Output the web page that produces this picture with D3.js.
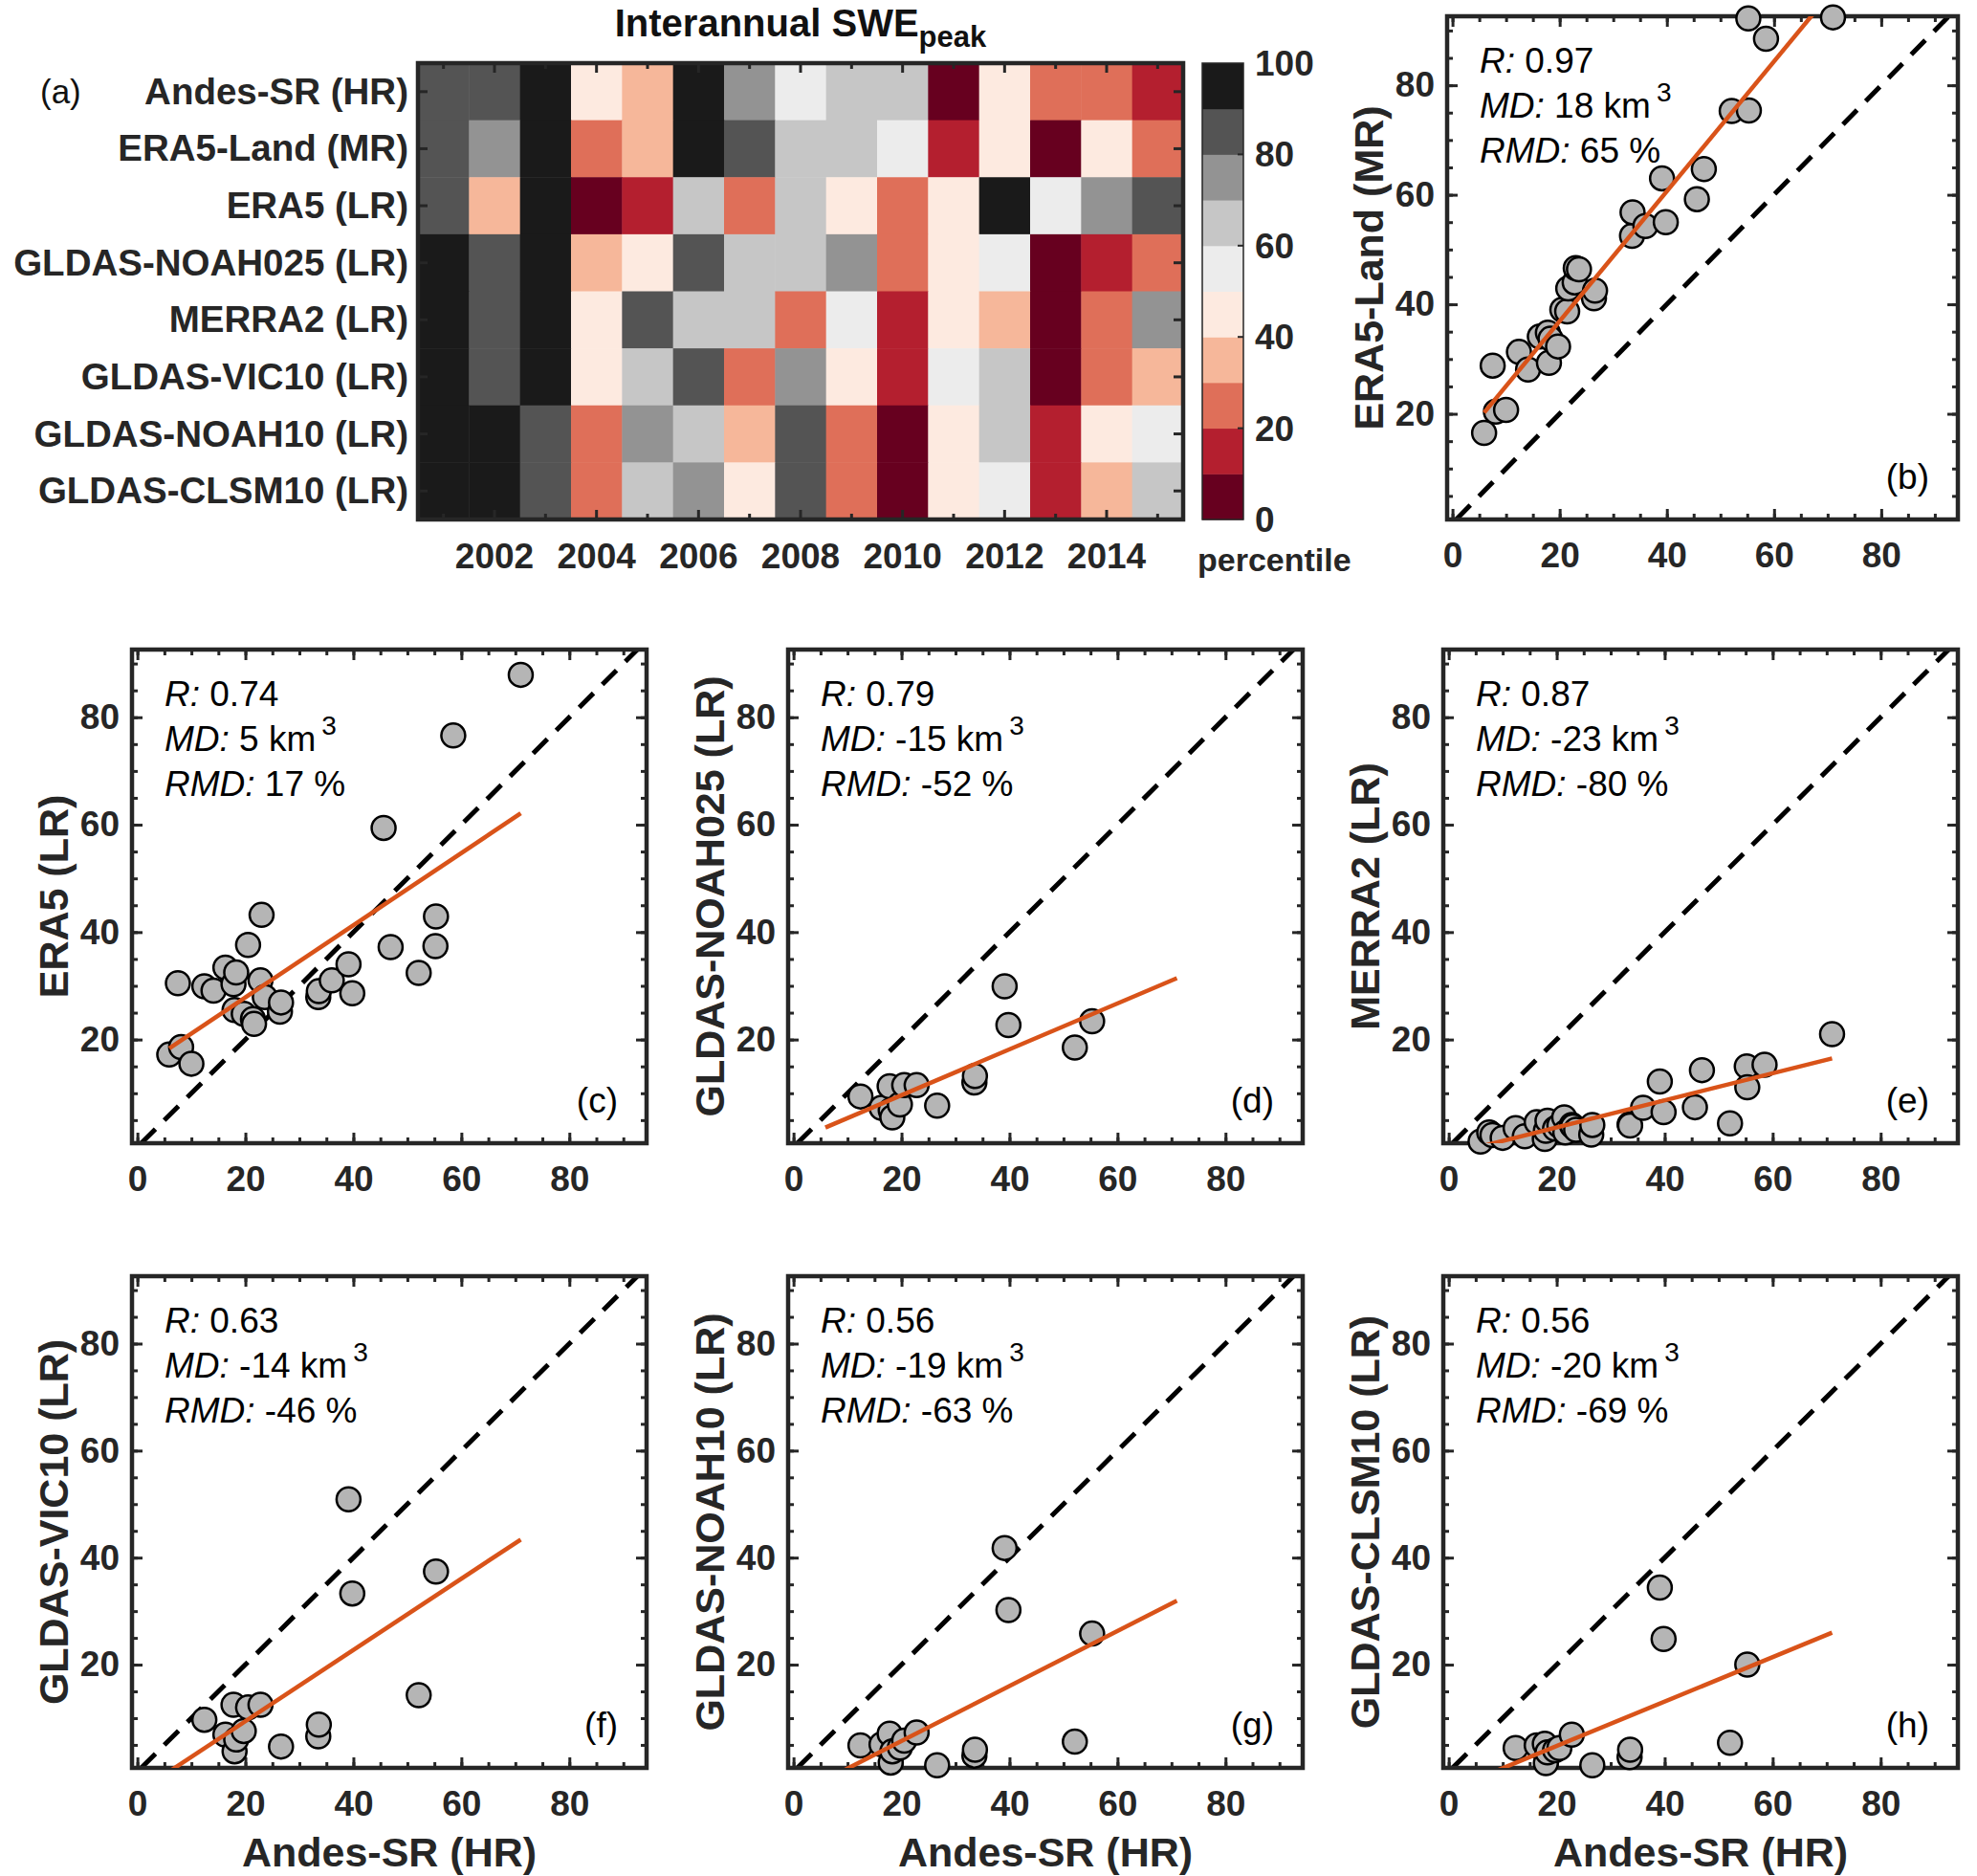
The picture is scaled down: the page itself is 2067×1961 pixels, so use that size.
<!DOCTYPE html>
<html lang="en">
<head>
<meta charset="UTF-8">
<title>Interannual SWE peak</title>
<script src="https://d3js.org/d3.v7.min.js"></script>
<style>
    body { margin: 0; background: #fff; }
    svg text { font-family: 'Liberation Sans', Arial, Helvetica, sans-serif; }
    .tick text { fill: #262626; font-weight: bold; font-size: 37px; }
    .tick line { stroke: #262626; stroke-width: 3px; }
    .domain { display: none; }
</style>
</head>
<body>
<div id="chart"></div>
<script>
// ---- data ----
const years = [2001, 2002, 2003, 2004, 2005, 2006, 2007, 2008, 2009, 2010, 2011, 2012, 2013, 2014, 2015];
const yearTicks = [2002, 2004, 2006, 2008, 2010, 2012, 2014];
const products = ["Andes-SR (HR)", "ERA5-Land (MR)", "ERA5 (LR)", "GLDAS-NOAH025 (LR)",
                  "MERRA2 (LR)", "GLDAS-VIC10 (LR)", "GLDAS-NOAH10 (LR)", "GLDAS-CLSM10 (LR)"];

// percentile of each year's SWE peak (bin centres)
const pctAndesSR  = [85, 85, 95, 45, 35, 95, 75, 55, 65, 65,  5, 45, 25, 25, 15];
const pctERA5Land = [85, 75, 95, 25, 35, 95, 85, 65, 65, 55, 15, 45,  5, 45, 25];
const pctERA5     = [85, 35, 95,  5, 15, 65, 25, 65, 45, 25, 45, 95, 55, 75, 85];
const pctNOAH025  = [95, 85, 95, 35, 45, 85, 65, 65, 75, 25, 45, 55,  5, 15, 25];
const pctMERRA2   = [95, 85, 95, 45, 85, 65, 65, 25, 55, 15, 45, 35,  5, 25, 75];
const pctVIC10    = [95, 85, 95, 45, 65, 85, 25, 75, 45, 15, 55, 65,  5, 25, 35];
const pctNOAH10   = [95, 95, 85, 25, 75, 65, 35, 85, 25,  5, 45, 65, 15, 45, 55];
const pctCLSM10   = [95, 95, 85, 25, 65, 75, 45, 85, 25,  5, 45, 55, 15, 35, 65];

const colorBreaks = [10, 20, 30, 40, 50, 60, 70, 80, 90];
const colorSteps = ["#67001f", "#b41f2f", "#df6f59", "#f6b79a", "#fdeae0",
                    "#ececec", "#c6c6c6", "#939393", "#545454", "#1a1a1a"];
const colorbarTicks = [0, 20, 40, 60, 80, 100];

// Andes-SR peak SWE (km3), long record and GLDAS overlap
const andesLong  = [5.9, 7.5, 8.1, 10.0, 12.4, 14.1, 16.3, 17.8, 18.0, 18.3, 19.7, 20.5, 21.4, 21.6, 22.8, 23.0,
                    23.6, 26.4, 26.6, 33.5, 33.6, 36.0, 39.1, 39.8, 45.6, 46.9, 52.1, 55.2, 55.3, 58.5, 71.0];
const andesShort = [12.4, 16.3, 17.8, 18.0, 18.3, 19.7, 20.5, 22.8, 26.6, 33.5, 33.6, 39.1, 39.8, 52.1, 55.3];

const sweERA5Land = [16.5, 28.8, 20.4, 20.7, 31.3, 28.1, 34.1, 34.8, 29.3, 33.7, 32.3, 39.0, 38.7, 42.9, 44.0, 46.6,
                     46.4, 41.1, 42.5, 52.5, 56.8, 54.3, 63.0, 55.0, 59.2, 64.7, 75.3, 92.2, 75.4, 88.5, 92.4];
const sweERA5     = [17.2, 30.5, 18.6, 15.5, 29.9, 29.1, 33.4, 30.3, 25.5, 32.5, 24.8, 37.6, 23.8, 22.9, 31.0, 43.2,
                     27.9, 25.2, 26.9, 27.9, 29.0, 31.0, 34.0, 28.6, 59.4, 37.2, 32.4, 37.4, 42.9, 76.6, 87.9];
const sweMERRA2   = [1.0, 2.7, 2.2, 1.7, 3.5, 2.0, 4.6, 1.5, 3.0, 4.9, 3.4, 4.0, 5.5, 2.7, 4.1, 3.8,
                     3.2, 2.3, 4.1, 4.2, 4.0, 7.3, 12.2, 6.5, 7.4, 14.3, 4.4, 15.0, 11.1, 15.3, 21.0];
const sweNOAH025  = [9.4, 7.3, 11.3, 6.8, 5.5, 7.9, 11.5, 11.5, 7.7, 12.0, 13.2, 29.9, 22.7, 18.5, 23.4];
const sweVIC10    = [9.7, 6.9, 12.5, 3.8, 6.0, 7.6, 12.0, 12.5, 4.7, 6.6, 8.8, 50.9, 33.3, 14.3, 37.4];
const sweNOAH10   = [4.9, 5.1, 7.1, 1.7, 3.8, 4.5, 5.8, 7.3, 1.2, 3.0, 4.1, 41.8, 30.2, 5.6, 25.8];
const sweCLSM10   = [4.4, 4.9, 5.2, 1.6, 3.6, 4.0, 4.4, 6.9, 1.2, 2.7, 4.1, 34.4, 24.8, 5.4, 20.0];

// fitted lines as drawn (slope, intercept), over the Andes-SR range
const fitSlope     = [1.186, 0.672, 0.427, 0.252, 0.666, 0.514, 0.415];
const fitIntercept = [13.2, 14.4, 1.1, -1.4, -3.9, -4.55, -3.5];
const fitRange = [5.9, 71.0];

const statR   = ["0.97", "0.74", "0.79", "0.87", "0.63", "0.56", "0.56"];
const statMD  = ["18", "5", "-15", "-23", "-14", "-19", "-20"];
const statRMD = ["65", "17", "-52", "-80", "-46", "-63", "-69"];
const panelLetters = ["(b)", "(c)", "(d)", "(e)", "(f)", "(g)", "(h)"];
const panelYLabels = ["ERA5-Land (MR)", "ERA5 (LR)", "GLDAS-NOAH025 (LR)", "MERRA2 (LR)",
                      "GLDAS-VIC10 (LR)", "GLDAS-NOAH10 (LR)", "GLDAS-CLSM10 (LR)"];
const scatterTicks = [0, 20, 40, 60, 80];

// ---- layout ----
const W = 2067, H = 1961;
const ink = "#262626";
const heat = {x0: 437, x1: 1237, y0: 66, y1: 543};
const cbar = {x0: 1257, x1: 1300};
const boxes = [
    {x: 1513, y: 17, w: 534, h: 526},
    {x: 138, y: 679, w: 538, h: 516},
    {x: 824, y: 679, w: 538, h: 516},
    {x: 1509, y: 679, w: 538, h: 516},
    {x: 138, y: 1334, w: 538, h: 514},
    {x: 824, y: 1334, w: 538, h: 514},
    {x: 1509, y: 1334, w: 538, h: 514}
];
const xDomain = [-1, 94.3], yDomain = [0.7, 92.6];

const svg = d3.select("#chart").append("svg")
    .attr("width", W).attr("height", H);

// ---- (a) heatmap ----
const pctRows = [pctAndesSR, pctERA5Land, pctERA5, pctNOAH025, pctMERRA2, pctVIC10, pctNOAH10, pctCLSM10];
const hx = d3.scaleBand().domain(years).range([heat.x0, heat.x1]);
const hy = d3.scaleBand().domain(products).range([heat.y0, heat.y1]);
const color = d3.scaleThreshold().domain(colorBreaks).range(colorSteps);

const cells = [];
pctRows.forEach((row, i) => row.forEach((v, j) => cells.push({p: products[i], yr: years[j], v})));

svg.append("g").selectAll("rect").data(cells).join("rect")
    .attr("x", d => hx(d.yr)).attr("y", d => hy(d.p))
    .attr("width", hx.bandwidth() + 0.5).attr("height", hy.bandwidth() + 0.5)
    .attr("fill", d => color(d.v));

// tick marks
const hTicks = svg.append("g").attr("stroke", ink).attr("stroke-width", 3);
years.forEach(yr => {
    const cx = hx(yr) + hx.bandwidth() / 2;
    const len = yr % 2 === 0 ? 10 : 6;
    hTicks.append("line").attr("x1", cx).attr("x2", cx).attr("y1", heat.y0).attr("y2", heat.y0 + len);
    hTicks.append("line").attr("x1", cx).attr("x2", cx).attr("y1", heat.y1).attr("y2", heat.y1 - len);
});
products.forEach(p => {
    const cy = hy(p) + hy.bandwidth() / 2;
    hTicks.append("line").attr("x1", heat.x0).attr("x2", heat.x0 + 10).attr("y1", cy).attr("y2", cy);
    hTicks.append("line").attr("x1", heat.x1).attr("x2", heat.x1 - 10).attr("y1", cy).attr("y2", cy);
});
svg.append("rect").attr("x", heat.x0).attr("y", heat.y0)
    .attr("width", heat.x1 - heat.x0).attr("height", heat.y1 - heat.y0)
    .attr("fill", "none").attr("stroke", ink).attr("stroke-width", 4.5);

svg.append("g").selectAll("text").data(products).join("text")
    .attr("x", heat.x0 - 10).attr("y", d => hy(d) + hy.bandwidth() / 2 + 13)
    .attr("text-anchor", "end").attr("font-weight", "bold").attr("font-size", 38.5).attr("fill", ink)
    .text(d => d);

svg.append("g").selectAll("text").data(yearTicks).join("text")
    .attr("x", d => hx(d) + hx.bandwidth() / 2).attr("y", heat.y1 + 51)
    .attr("text-anchor", "middle").attr("font-weight", "bold").attr("font-size", 37).attr("fill", ink)
    .text(d => d);

svg.append("text").attr("x", 42).attr("y", hy(products[0]) + hy.bandwidth() / 2 + 12)
    .attr("font-size", 35).attr("fill", "#111").text("(a)");

const title = svg.append("text").attr("x", (heat.x0 + heat.x1) / 2).attr("y", 38)
    .attr("text-anchor", "middle").attr("font-weight", "bold").attr("font-size", 40).attr("fill", "#111");
title.append("tspan").text("Interannual SWE");
title.append("tspan").attr("font-size", 31).attr("dy", 11).text("peak");

// colorbar
const cy = d3.scaleLinear().domain([0, 100]).range([heat.y1, heat.y0]);
const cbarBins = d3.pairs([0, ...colorBreaks, 100]);
svg.append("g").selectAll("rect").data(cbarBins).join("rect")
    .attr("x", cbar.x0).attr("width", cbar.x1 - cbar.x0)
    .attr("y", d => cy(d[1])).attr("height", d => cy(d[0]) - cy(d[1]) + 0.5)
    .attr("fill", d => color((d[0] + d[1]) / 2));
svg.append("g").selectAll("line").data(colorbarTicks.slice(1, -1)).join("line")
    .attr("x1", cbar.x1).attr("x2", cbar.x1 - 6).attr("y1", d => cy(d)).attr("y2", d => cy(d))
    .attr("stroke", ink).attr("stroke-width", 2);
svg.append("rect").attr("x", cbar.x0).attr("y", heat.y0)
    .attr("width", cbar.x1 - cbar.x0).attr("height", heat.y1 - heat.y0)
    .attr("fill", "none").attr("stroke", ink).attr("stroke-width", 1.5);
svg.append("g").selectAll("text").data(colorbarTicks).join("text")
    .attr("x", cbar.x1 + 12).attr("y", d => cy(d) + 13)
    .attr("font-weight", "bold").attr("font-size", 37).attr("fill", ink)
    .text(d => d);
svg.append("text").attr("x", 1252).attr("y", 597)
    .attr("font-weight", "bold").attr("font-size", 34).attr("fill", ink).text("percentile");

// ---- (b)-(h) scatter panels ----
const panelX = [andesLong, andesLong, andesShort, andesLong, andesShort, andesShort, andesShort];
const panelY = [sweERA5Land, sweERA5, sweNOAH025, sweMERRA2, sweVIC10, sweNOAH10, sweCLSM10];

boxes.forEach((b, i) => {
    const g = svg.append("g");
    const x = d3.scaleLinear().domain(xDomain).range([b.x, b.x + b.w]);
    const y = d3.scaleLinear().domain(yDomain).range([b.y + b.h, b.y]);
    const clipId = "clip" + i;
    svg.append("clipPath").attr("id", clipId).append("rect")
        .attr("x", b.x).attr("y", b.y).attr("width", b.w).attr("height", b.h);

    const minor = d3.range(0, 95, 5);
    // minor ticks all four sides
    g.append("g").attr("transform", `translate(0,${b.y + b.h})`)
        .call(d3.axisBottom(x).tickValues(minor).tickSize(-6).tickFormat(""));
    g.append("g").attr("transform", `translate(0,${b.y})`)
        .call(d3.axisTop(x).tickValues(minor).tickSize(-6).tickFormat(""));
    g.append("g").attr("transform", `translate(${b.x},0)`)
        .call(d3.axisLeft(y).tickValues(minor.filter(v => v > 1)).tickSize(-6).tickFormat(""));
    g.append("g").attr("transform", `translate(${b.x + b.w},0)`)
        .call(d3.axisRight(y).tickValues(minor.filter(v => v > 1)).tickSize(-6).tickFormat(""));
    // major ticks with labels
    g.append("g").attr("transform", `translate(0,${b.y + b.h})`)
        .call(d3.axisBottom(x).tickValues(scatterTicks).tickSize(-11).tickPadding(24));
    g.append("g").attr("transform", `translate(${b.x},0)`)
        .call(d3.axisLeft(y).tickValues(scatterTicks.slice(1)).tickSize(-11).tickPadding(13));
    g.append("g").attr("transform", `translate(0,${b.y})`)
        .call(d3.axisTop(x).tickValues(scatterTicks).tickSize(-11).tickFormat(""));
    g.append("g").attr("transform", `translate(${b.x + b.w},0)`)
        .call(d3.axisRight(y).tickValues(scatterTicks.slice(1)).tickSize(-11).tickFormat(""));

    const lines = g.append("g").attr("clip-path", `url(#${clipId})`);

    // 1:1 line
    lines.append("line")
        .attr("x1", x(yDomain[0])).attr("y1", y(yDomain[0]))
        .attr("x2", x(yDomain[1] + 2)).attr("y2", y(yDomain[1] + 2))
        .attr("stroke", "#000").attr("stroke-width", 5).attr("stroke-dasharray", "21,13");

    // box
    g.append("rect").attr("x", b.x).attr("y", b.y).attr("width", b.w).attr("height", b.h)
        .attr("fill", "none").attr("stroke", ink).attr("stroke-width", 4.5);

    // points (not clipped, drawn over the box edge)
    const pts = panelX[i].map((v, k) => [v, panelY[i][k]]);
    g.append("g").selectAll("circle").data(pts).join("circle")
        .attr("cx", d => x(d[0])).attr("cy", d => y(d[1])).attr("r", 12.5)
        .attr("fill", "#b5b5b5").attr("stroke", "#000").attr("stroke-width", 2.5);

    // fitted line
    g.append("g").attr("clip-path", `url(#${clipId})`).append("line")
        .attr("x1", x(fitRange[0])).attr("y1", y(fitSlope[i] * fitRange[0] + fitIntercept[i]))
        .attr("x2", x(fitRange[1])).attr("y2", y(fitSlope[i] * fitRange[1] + fitIntercept[i]))
        .attr("stroke", "#d95319").attr("stroke-width", 4.5);

    // statistics
    const st = g.append("g").attr("font-size", 37).attr("fill", "#000");
    const t1 = st.append("text").attr("x", b.x + 34).attr("y", b.y + 59);
    t1.append("tspan").attr("font-style", "italic").text("R:");
    t1.append("tspan").text(" " + statR[i]);
    const t2 = st.append("text").attr("x", b.x + 34).attr("y", b.y + 106);
    t2.append("tspan").attr("font-style", "italic").text("MD:");
    t2.append("tspan").text(" " + statMD[i] + " km");
    t2.append("tspan").attr("font-size", 28).attr("dx", 6).attr("dy", -17).text("3");
    const t3 = st.append("text").attr("x", b.x + 34).attr("y", b.y + 153);
    t3.append("tspan").attr("font-style", "italic").text("RMD:");
    t3.append("tspan").text(" " + statRMD[i] + " %");

    g.append("text").attr("x", b.x + b.w - 30).attr("y", b.y + b.h - 32)
        .attr("text-anchor", "end").attr("font-size", 37).attr("fill", "#000").text(panelLetters[i]);

    // y label
    g.append("text")
        .attr("transform", `translate(${b.x - 67},${b.y + b.h / 2}) rotate(-90)`)
        .attr("text-anchor", "middle").attr("font-weight", "bold").attr("font-size", 43).attr("fill", ink)
        .text(panelYLabels[i]);

    // x label on bottom row
    if (i >= 4) {
        g.append("text").attr("x", b.x + b.w / 2).attr("y", b.y + b.h + 103)
            .attr("text-anchor", "middle").attr("font-weight", "bold").attr("font-size", 43).attr("fill", ink)
            .text("Andes-SR (HR)");
    }
});
</script>
</body>
</html>
